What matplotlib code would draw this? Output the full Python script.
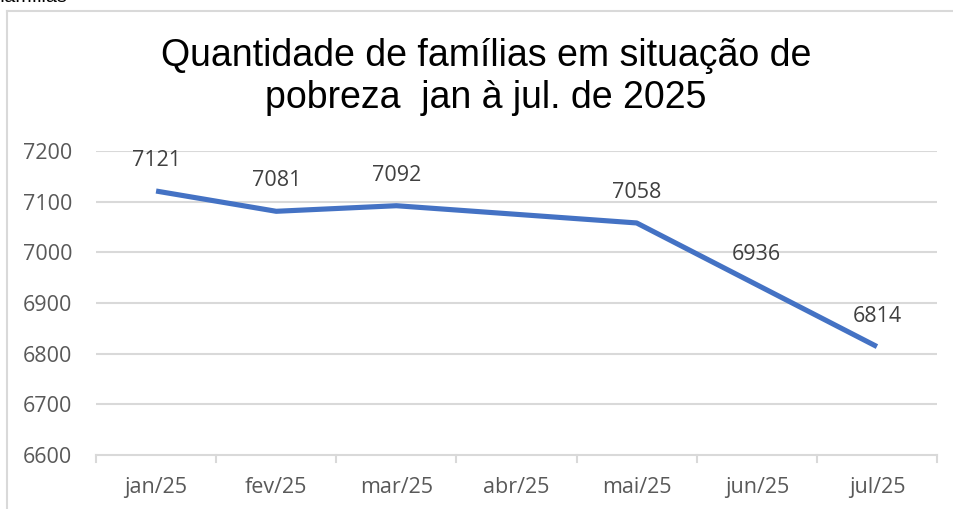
import matplotlib
matplotlib.use("Agg")
import matplotlib.pyplot as plt
from matplotlib.lines import Line2D

# dados
meses = ["jan/25", "fev/25", "mar/25", "abr/25", "mai/25", "jun/25", "jul/25"]
familias = [7121, 7081, 7092, 7075, 7058, 6936, 6814]
rotulos = ["7121", "7081", "7092", "", "7058", "6936", "6814"]
y_ticks = [6600, 6700, 6800, 6900, 7000, 7100, 7200]

titulo = "Quantidade de famílias em situação de\npobreza  jan à jul. de 2025"

W, H = 954, 509
fig = plt.figure(figsize=(W / 100, H / 100), dpi=100)
ax = fig.add_axes([96 / W, 54 / H, (937 - 96) / W, (455 - 151) / H])

grid_c = "#d9d9d9"
txt_c = "#595959"

x = list(range(len(meses)))
ax.plot(x, familias, color="#4472C4", lw=3.7, solid_capstyle="butt", zorder=3)

for xi, v, r in zip(x, familias, rotulos):
    if r:
        ax.annotate(r, (xi, v), xytext=(0, 22), textcoords="offset points",
                    ha="center", va="center", fontsize=15.5, color="#404040",
                    family="Open Sans")

ax.set_xlim(-0.5, len(meses) - 0.5)
ax.set_ylim(6600, 7200)
ax.set_yticks(y_ticks)
ax.set_yticklabels([str(t) for t in y_ticks], family="Open Sans", fontsize=15.5, color=txt_c)
ax.set_xticks(x)
ax.set_xticklabels(meses, family="Open Sans", fontsize=15.5, color=txt_c)
ax.tick_params(axis="y", length=0, pad=17)
ax.tick_params(axis="x", length=0, pad=16)

for t in y_ticks[1:]:
    ax.axhline(t, color=grid_c, lw=1.5, zorder=1)

for s in ["top", "right", "left"]:
    ax.spines[s].set_visible(False)
ax.spines["bottom"].set_color(grid_c)
ax.spines["bottom"].set_linewidth(1.5)

# marcas entre categorias
for b in [i - 0.5 for i in range(len(meses) + 1)]:
    ax.plot([b, b], [0, -0.022], transform=ax.get_xaxis_transform(),
            color=grid_c, lw=1.5, clip_on=False)

fig.text(486 / W, 1 - 77 / H, titulo, ha="center", va="center",
         fontsize=27, family="Liberation Sans", color="black", linespacing=1.2)

# moldura do gráfico
fig.add_artist(Line2D([7 / W, 7 / W], [0, 1 - 11 / H], color=grid_c, lw=1.5))
fig.add_artist(Line2D([7 / W, 1], [1 - 11 / H, 1 - 11 / H], color=grid_c, lw=1.5))

# texto cortado no topo (como na imagem original)
fig.text(0.0, 1 - 2 / H, "famílias", ha="left", va="baseline", fontsize=14,
         family="Liberation Sans", color="black")

fig.savefig("out.png", dpi=100)
